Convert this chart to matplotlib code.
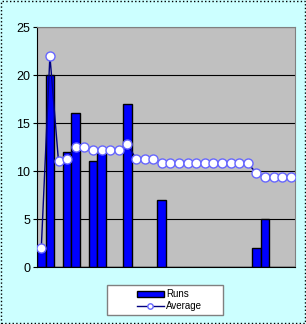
import matplotlib
matplotlib.use("Agg")
import matplotlib.pyplot as plt
import numpy as np

plt.rcParams['font.family'] = ['Liberation Sans', 'DejaVu Sans']

# one entry per innings (30 innings)
runs = [2, 20, 0, 12, 16, 0, 11, 12, 0, 0, 17, 0, 0, 0, 7,
        0, 0, 0, 0, 0, 0, 0, 0, 0, 0, 2, 5, 0, 0, 0]
average = [2, 22, 11, 11.3, 12.5, 12.5, 12.2, 12.2, 12.2, 12.2, 12.8, 11.3, 11.3, 11.3, 10.8,
           10.8, 10.8, 10.8, 10.8, 10.8, 10.8, 10.8, 10.8, 10.8, 10.8, 9.8, 9.4, 9.4, 9.4, 9.4]
yticks = [0, 5, 10, 15, 20, 25]

x = np.arange(len(runs))

fig = plt.figure(figsize=(3.06, 3.24), dpi=100, facecolor="#CCFFFF")
ax = fig.add_axes([37/306, 1-267/324, (295-37)/306, (267-27)/324])
ax.set_facecolor("#C0C0C0")

bars = ax.bar(x, runs, width=1.0, color="#0000FF", edgecolor="black", linewidth=1.0,
              label="Runs", zorder=2)
line, = ax.plot(x, average, color="#000080", linewidth=1.0, marker="o", markersize=6.5,
                markerfacecolor="white", markeredgecolor="#6666FF", markeredgewidth=1.0,
                label="Average", zorder=3)

ax.set_xlim(-0.5, len(runs) - 0.5)
ax.set_ylim(0, 25)
ax.set_yticks(yticks)
ax.set_xticks([])
ax.yaxis.grid(True, color="black", linewidth=0.8)
ax.set_axisbelow(True)
ax.tick_params(axis="y", labelsize=9, length=3, width=0.8, pad=2)
for side in ["top", "right"]:
    ax.spines[side].set_color("#808080")
ax.spines["left"].set_color("black")
ax.spines["bottom"].set_color("black")

# legend box drawn separately so it can be wider than its contents
frame = plt.Rectangle((107/306, 1-315/324), 116/306, 30/324, transform=fig.transFigure,
                      facecolor="white", edgecolor="#808080", linewidth=1.0)
fig.patches.append(frame)
leg = fig.legend(handles=[bars, line], labels=["Runs", "Average"],
                 loc="center left", bbox_to_anchor=(130/306, 1-300/324),
                 fontsize=7, frameon=False, handlelength=2.8, markerscale=0.6,
                 handleheight=0.6, borderpad=0.2, labelspacing=0.2, handletextpad=0.2)

border = plt.Rectangle((0.002, 0.002), 0.996, 0.996, transform=fig.transFigure,
                       fill=False, edgecolor="black", linestyle=":", linewidth=1)
fig.patches.append(border)

fig.savefig("out.png", dpi=100, facecolor=fig.get_facecolor())
